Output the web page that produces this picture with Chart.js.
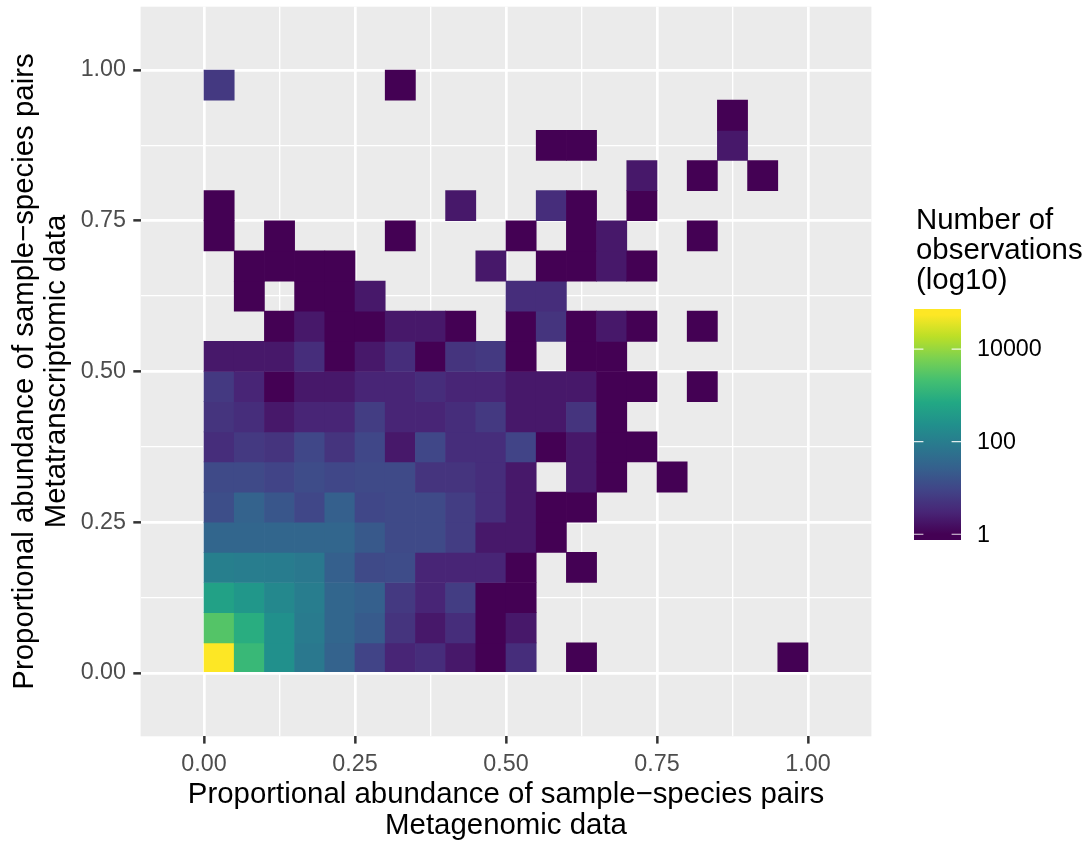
<!DOCTYPE html>
<html>
<head>
<meta charset="utf-8">
<script src="https://cdn.jsdelivr.net/npm/chart.js@4.4.1/dist/chart.umd.min.js"></script>
<style>
  body { margin: 0; background: #fff; }
  canvas { display: block; }
</style>
</head>
<body>
<canvas id="heatmap" width="1088" height="843"></canvas>
<script>
const binWidth = 0.05;
const xTicks = [0, 0.25, 0.5, 0.75, 1];
const yTicks = [0, 0.25, 0.5, 0.75, 1];
const legendBreaks = [1, 100, 10000];
const maxCount = 55000;

// observations per bin, one array per y bin (row00 = 0.00-0.05 ... row19 = 0.95-1.00), 20 x bins each
const row00 = [55000, 1500, 230, 80, 30, 9, 3, 4, 2, 1, 4, 0, 1, 0, 0, 0, 0, 0, 0, 1];
const row01 = [2900, 870, 230, 90, 35, 22, 5, 2, 4, 1, 2, 0, 0, 0, 0, 0, 0, 0, 0, 0];
const row02 = [500, 325, 165, 100, 35, 27, 6, 3, 7, 1, 1, 0, 0, 0, 0, 0, 0, 0, 0, 0];
const row03 = [110, 100, 95, 80, 27, 11, 12, 3, 3, 3, 1, 0, 1, 0, 0, 0, 0, 0, 0, 0];
const row04 = [35, 35, 34, 35, 34, 20, 11, 11, 7, 2, 2, 1, 0, 0, 0, 0, 0, 0, 0, 0];
const row05 = [13, 30, 18, 10, 27, 10, 11, 11, 7, 4, 2, 1, 1, 0, 0, 0, 0, 0, 0, 0];
const row06 = [11, 11, 9, 12, 10, 11, 11, 5, 5, 4, 2, 0, 2, 1, 0, 1, 0, 0, 0, 0];
const row07 = [4, 6, 5, 10, 5, 10, 2, 10, 4, 4, 9, 1, 2, 1, 1, 0, 0, 0, 0, 0];
const row08 = [5, 4, 2, 3, 3, 7, 3, 3, 4, 6, 2, 2, 5, 1, 0, 0, 0, 0, 0, 0];
const row09 = [6, 3, 1, 2, 2, 3, 3, 4, 3, 3, 2, 2, 2, 1, 1, 0, 1, 0, 0, 0];
const row10 = [2, 2, 2, 4, 1, 2, 4, 1, 5, 6, 1, 0, 1, 1, 0, 0, 0, 0, 0, 0];
const row11 = [0, 0, 1, 2, 1, 1, 2, 2, 1, 0, 1, 5, 1, 2, 1, 0, 1, 0, 0, 0];
const row12 = [0, 1, 0, 1, 1, 2, 0, 0, 0, 0, 4, 4, 0, 0, 0, 0, 0, 0, 0, 0];
const row13 = [0, 1, 1, 1, 1, 0, 0, 0, 0, 2, 0, 1, 1, 2, 1, 0, 0, 0, 0, 0];
const row14 = [1, 0, 1, 0, 0, 0, 1, 0, 0, 0, 1, 0, 1, 2, 0, 0, 1, 0, 0, 0];
const row15 = [1, 0, 0, 0, 0, 0, 0, 0, 2, 0, 0, 4, 1, 0, 1, 0, 0, 0, 0, 0];
const row16 = [0, 0, 0, 0, 0, 0, 0, 0, 0, 0, 0, 0, 0, 0, 2, 0, 1, 0, 1, 0];
const row17 = [0, 0, 0, 0, 0, 0, 0, 0, 0, 0, 0, 1, 1, 0, 0, 0, 0, 2, 0, 0];
const row18 = [0, 0, 0, 0, 0, 0, 0, 0, 0, 0, 0, 0, 0, 0, 0, 0, 0, 1, 0, 0];
const row19 = [6, 0, 0, 0, 0, 0, 1, 0, 0, 0, 0, 0, 0, 0, 0, 0, 0, 0, 0, 0];

const rows = [row00, row01, row02, row03, row04, row05, row06, row07, row08, row09,
              row10, row11, row12, row13, row14, row15, row16, row17, row18, row19];

const viridis = ['#440154', '#482576', '#414487', '#35608D', '#2A788E', '#21908C',
                 '#22A884', '#43BF71', '#7AD151', '#BBDF27', '#FDE725'];

function hexToRgb(h) {
  return [parseInt(h.slice(1, 3), 16), parseInt(h.slice(3, 5), 16), parseInt(h.slice(5, 7), 16)];
}

function viridisAt(t) {
  t = Math.max(0, Math.min(1, t));
  const pos = t * (viridis.length - 1);
  const i = Math.min(Math.floor(pos), viridis.length - 2);
  const f = pos - i;
  const a = hexToRgb(viridis[i]);
  const b = hexToRgb(viridis[i + 1]);
  const c = a.map((v, k) => Math.round(v + (b[k] - v) * f));
  return `rgb(${c[0]}, ${c[1]}, ${c[2]})`;
}

const logMax = Math.log10(maxCount);
function fillFor(n) {
  return viridisAt(Math.log10(n) / logMax);
}

const cells = [];
rows.forEach((row, r) => {
  row.forEach((n, c) => {
    if (n > 0) {
      cells.push({ x: (c + 0.5) * binWidth, y: [r * binWidth, (r + 1) * binWidth], n: n });
    }
  });
});

// major breaks from the tick arrays, minor lines half way between them
function withMinor(ticks) {
  const out = [];
  ticks.forEach((v, i) => {
    out.push(v);
    if (i < ticks.length - 1) out.push((v + ticks[i + 1]) / 2);
  });
  return out;
}

function isMajor(v, ticks) {
  return ticks.some(t => Math.abs(t - v) < 1e-9);
}

Chart.defaults.font.family = "'Liberation Sans', Arial, Helvetica, sans-serif";

const panelBg = {
  id: 'panelBg',
  beforeDraw(chart) {
    const { ctx, chartArea: a } = chart;
    ctx.save();
    ctx.fillStyle = '#EBEBEB';
    ctx.fillRect(a.left, a.top, a.right - a.left, a.bottom - a.top);
    ctx.restore();
  }
};

const colourBar = {
  id: 'colourBar',
  afterDraw(chart) {
    const ctx = chart.ctx;
    const left = 914, width = 47, top = 309, bottom = 540;
    const h = bottom - top;
    ctx.save();

    ctx.fillStyle = '#000';
    ctx.font = "29.4px 'Liberation Sans', Arial, Helvetica, sans-serif";
    ctx.textAlign = 'left';
    ctx.textBaseline = 'alphabetic';
    ['Number of', 'observations', '(log10)'].forEach((line, i) => {
      ctx.fillText(line, 916, 228.5 + i * 30);
    });

    const grad = ctx.createLinearGradient(0, bottom, 0, top);
    grad.addColorStop(0, viridis[0]);
    viridis.forEach((col, i) => {
      grad.addColorStop(0.025 + 0.95 * i / (viridis.length - 1), col);
    });
    grad.addColorStop(1, viridis[viridis.length - 1]);
    ctx.fillStyle = grad;
    ctx.fillRect(left, top, width, h);

    const yFor = v => bottom - (0.025 + 0.95 * Math.log10(v) / logMax) * h;
    ctx.strokeStyle = 'rgba(255,255,255,0.85)';
    ctx.lineWidth = 1.2;
    ctx.font = "23.3px 'Liberation Sans', Arial, Helvetica, sans-serif";
    ctx.fillStyle = '#000';
    ctx.textBaseline = 'middle';
    legendBreaks.forEach(b => {
      const y = yFor(b);
      ctx.beginPath();
      ctx.moveTo(left, y); ctx.lineTo(left + 9.4, y);
      ctx.moveTo(left + width - 9.4, y); ctx.lineTo(left + width, y);
      ctx.stroke();
      ctx.fillText(String(b), 977, y + 1);
    });
    ctx.restore();
  }
};

function gridFor(ticks) {
  return {
    offset: false,
    color: '#FFFFFF',
    lineWidth: c => (c.tick && isMajor(c.tick.value, ticks)) ? 2.7 : 1.35,
    tickColor: c => (c.tick && isMajor(c.tick.value, ticks)) ? '#333333' : 'rgba(0,0,0,0)',
    tickWidth: 2.5,
    tickLength: 7.3,
    drawTicks: true
  };
}

const tickFont = { size: 23.3, lineHeight: 1.2 };
const titleFont = { size: 29.4, lineHeight: '31.5px' };

new Chart(document.getElementById('heatmap'), {
  type: 'bar',
  data: {
    datasets: [{
      data: cells,
      backgroundColor: cells.map(d => fillFor(d.n)),
      borderWidth: 0,
      barPercentage: 1,
      categoryPercentage: 1
    }]
  },
  options: {
    responsive: false,
    animation: false,
    layout: { padding: { left: 0, right: 216.6, top: 6.7, bottom: 0 } },
    plugins: {
      legend: { display: false },
      tooltip: { enabled: false }
    },
    scales: {
      x: {
        type: 'linear',
        min: -0.105,
        max: 1.105,
        offset: false,
        afterBuildTicks: s => { s.ticks = withMinor(xTicks).map(v => ({ value: v })); },
        afterFit: s => { s.height = 106.7; s.paddingLeft = 0; s.paddingRight = 0; },
        grid: gridFor(xTicks),
        border: { display: false },
        ticks: {
          autoSkip: false,
          maxRotation: 0,
          padding: 6.5,
          color: '#4D4D4D',
          font: tickFont,
          callback: v => isMajor(v, xTicks) ? v.toFixed(2) : ''
        },
        title: {
          display: true,
          text: ['Proportional abundance of sample\u2212species pairs', 'Metagenomic data'],
          color: '#000',
          font: titleFont,
          padding: { top: 0, bottom: 1 }
        }
      },
      y: {
        type: 'linear',
        min: -0.105,
        max: 1.105,
        afterBuildTicks: s => { s.ticks = withMinor(yTicks).map(v => ({ value: v })); },
        afterFit: s => { s.width = 140.6; s.paddingTop = 0; s.paddingBottom = 0; },
        grid: gridFor(yTicks),
        border: { display: false },
        ticks: {
          autoSkip: false,
          padding: 7.3,
          color: '#4D4D4D',
          font: tickFont,
          callback: v => isMajor(v, yTicks) ? v.toFixed(2) : ''
        },
        title: {
          display: true,
          text: ['Proportional abundance of sample\u2212species pairs', 'Metatranscriptomic data'],
          color: '#000',
          font: titleFont,
          padding: { top: 9.25, bottom: 0 }
        }
      }
    }
  },
  plugins: [panelBg, colourBar]
});
</script>
</body>
</html>
